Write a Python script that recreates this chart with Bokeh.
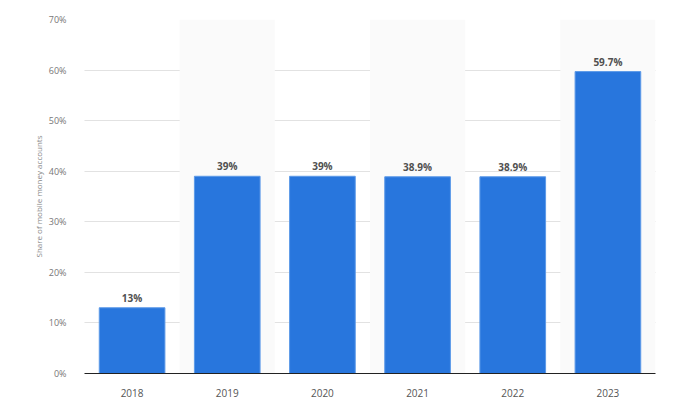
from bokeh.plotting import figure, ColumnDataSource
from bokeh.models import FactorRange, Range1d, PrintfTickFormatter, LabelSet, SingleIntervalTicker
from bokeh.core.properties import value
from bokeh.embed import file_html
from bokeh.resources import INLINE

# Data
years = ["2018", "2019", "2020", "2021", "2022", "2023"]
share = [13, 39, 39, 38.9, 38.9, 59.7]
labels = [f"{v:g}%" for v in share]
band_years = ["2019", "2021", "2023"]

FONT = "Open Sans"

source = ColumnDataSource(data={'year': years, 'share': share, 'label': labels})
band_source = ColumnDataSource(data={'year': band_years, 'top': [70] * len(band_years)})

p = figure(x_range=FactorRange(*years, range_padding=0), y_range=Range1d(0, 70),
           width=668, height=401, output_backend="svg", toolbar_location=None,
           min_border_left=84, min_border_right=13, min_border_top=19, min_border_bottom=28)
p.outline_line_color = None

# alternating background bands
p.vbar(x='year', top='top', bottom=0, width=1.0, source=band_source,
       fill_color="#fafafa", line_color=None)

p.vbar(x='year', top='share', width=0.69, source=source,
       fill_color="#2876dd", line_color="#5d9ae8", line_width=1)

bar_labels = LabelSet(x='year', y='share', text='label', source=source,
                      text_align="center", text_baseline="bottom", y_offset=3,
                      text_font=value(FONT), text_font_size="10px", text_font_style="bold",
                      text_color="#505050")
p.add_layout(bar_labels)

# grid
p.xgrid.grid_line_color = None
p.ygrid.grid_line_color = "#c4c4c4"
p.ygrid.grid_line_dash = "1 1"
p.ygrid.grid_line_width = 1

# y axis
p.yaxis.ticker = SingleIntervalTicker(interval=10)
p.yaxis.formatter = PrintfTickFormatter(format="%d%%")
p.yaxis.axis_line_color = None
p.yaxis.major_tick_line_color = None
p.yaxis.minor_tick_line_color = None
p.yaxis.major_label_text_font = FONT
p.yaxis.major_label_text_font_size = "9px"
p.yaxis.major_label_text_color = "#777777"
p.yaxis.major_label_standoff = 12
p.yaxis.axis_label = "Share of mobile money accounts"
p.yaxis.axis_label_text_font = FONT
p.yaxis.axis_label_text_font_size = "8px"
p.yaxis.axis_label_text_font_style = "normal"
p.yaxis.axis_label_text_color = "#888888"
p.yaxis.axis_label_standoff = 2

# x axis
p.xaxis.axis_line_color = "#222222"
p.xaxis.axis_line_width = 1
p.xaxis.major_tick_line_color = None
p.xaxis.minor_tick_line_color = None
p.xaxis.major_label_text_font = FONT
p.xaxis.major_label_text_font_size = "10px"
p.xaxis.major_label_text_color = "#555555"
p.xaxis.major_label_standoff = 9

open("out.html", "w").write(file_html(p, INLINE))
